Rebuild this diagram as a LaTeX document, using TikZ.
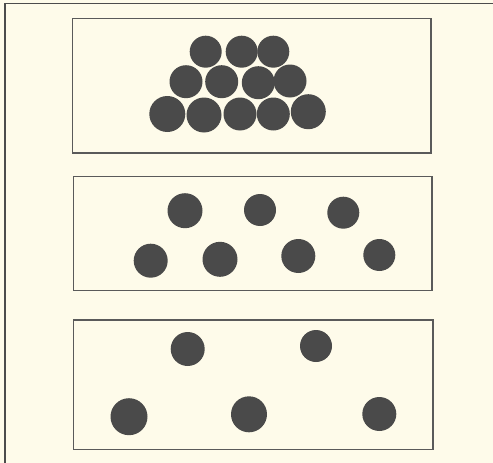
\documentclass[tikz,border=0pt]{standalone}
\usepackage{xcolor}
\usepackage{tikz}
\definecolor{paper}{HTML}{FEFBEA}
\definecolor{ink}{HTML}{4A4A4A}
\definecolor{frameline}{HTML}{5A5A5A}

\begin{document}
\begin{tikzpicture}[x=1pt,y=-1pt,
    box/.style={draw=frameline,line width=1.3pt},
    particle/.style={circle,fill=ink,inner sep=0pt,minimum size=33pt},
    smallparticle/.style={circle,fill=ink,inner sep=0pt,minimum size=32pt}]
  \fill[paper] (0,0) rectangle (493,463);
  \useasboundingbox (0,0) rectangle (493,463);
  \draw[line width=1.4pt,black!70] (5,463) -- (5,3.5) -- (493,3.5);
  % solid
  \draw[box] (72.7,18.3) rectangle (431,153);
  \node[smallparticle] (s1) at (205.7,51.7) {};
  \node[smallparticle] (s2) at (241.7,51.7) {};
  \node[smallparticle] (s3) at (273.3,51.7) {};
  \node[particle] (s4) at (186,81.7) {};
  \node[particle] (s5) at (221.7,81.7) {};
  \node[particle] (s6) at (258.3,82.7) {};
  \node[particle] (s7) at (290,81) {};
  \node[particle,minimum size=36pt] (s8) at (167.3,114) {};
  \node[particle,minimum size=35pt] (s9) at (204,115) {};
  \node[particle] (s10) at (240,114) {};
  \node[particle] (s11) at (273.3,114) {};
  \node[particle,minimum size=35pt] (s12) at (308.3,111.7) {};
  % liquid
  \draw[box] (73.3,176.7) rectangle (432,290.7);
  \node[smallparticle,minimum size=35pt] (l1) at (185,210.7) {};
  \node[smallparticle] (l2) at (260,210) {};
  \node[smallparticle] (l3) at (343.3,212.7) {};
  \node[smallparticle,minimum size=34pt] (l4) at (150.7,260.7) {};
  \node[smallparticle,minimum size=35pt] (l5) at (220,259.3) {};
  \node[smallparticle,minimum size=34pt] (l6) at (298.3,256) {};
  \node[smallparticle] (l7) at (379.3,255) {};
  % gas
  \draw[box] (73.3,320) rectangle (433,449.3);
  \node[smallparticle,minimum size=34pt] (g1) at (187.7,349) {};
  \node[smallparticle] (g2) at (316,346) {};
  \node[smallparticle,minimum size=37pt] (g3) at (129,416.7) {};
  \node[smallparticle,minimum size=36pt] (g4) at (249,414.3) {};
  \node[smallparticle,minimum size=34pt] (g5) at (379.3,414) {};
\end{tikzpicture}
\end{document}
